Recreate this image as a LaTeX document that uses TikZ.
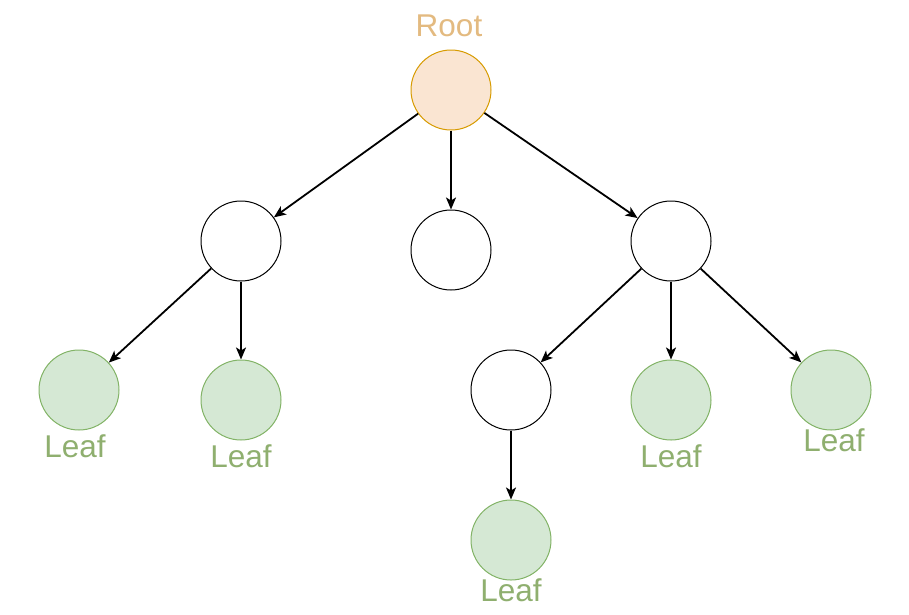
\documentclass[tikz,border=0pt]{standalone}
\usepackage{fontspec}
\setmainfont{Liberation Sans}
\usetikzlibrary{arrows.meta}
\definecolor{rootfill}{HTML}{FAE5D2}
\definecolor{rootline}{HTML}{D79B00}
\definecolor{roottext}{HTML}{E3BA80}
\definecolor{leaffill}{HTML}{D5E8D4}
\definecolor{leafline}{HTML}{82B366}
\definecolor{leaftext}{HTML}{8FAF6F}
\tikzset{
  vertex/.style={circle, draw=black, fill=white, line width=1pt, minimum size=80pt, inner sep=0pt},
  rootnode/.style={vertex, draw=rootline, fill=rootfill},
  leafnode/.style={vertex, draw=leafline, fill=leaffill},
  edge/.style={draw=black, line width=1.8pt, -{Stealth[length=12pt, width=10pt, inset=3pt]}},
  leaflabel/.style={anchor=base, inner sep=0pt, text=leaftext, font=\fontsize{31.5}{32}\selectfont},
  rootlabel/.style={anchor=base, inner sep=0pt, text=roottext, font=\fontsize{31.5}{32}\selectfont}
}
\begin{document}
\begin{tikzpicture}[x=1pt, y=-1pt]
  \useasboundingbox (0,0) rectangle (909,614);

  % nodes of the tree
  \node[rootnode] (root) at (451,90) {};
  \node[vertex] (left) at (241,241) {};
  \node[vertex] (mid) at (451,250) {};
  \node[vertex] (right) at (671,241) {};
  \node[leafnode] (leafA) at (79,390) {};
  \node[leafnode] (leafB) at (241,400) {};
  \node[vertex] (inner) at (511,390) {};
  \node[leafnode] (leafC) at (671,400) {};
  \node[leafnode] (leafD) at (831,390) {};
  \node[leafnode] (leafE) at (511,540) {};

  % labels
  \node[rootlabel] (rootText) at (449,36) {Root};
  \node[leaflabel] (labA) at (75,457) {Leaf};
  \node[leaflabel] (labB) at (241,467) {Leaf};
  \node[leaflabel] (labC) at (671,467) {Leaf};
  \node[leaflabel] (labD) at (834,451) {Leaf};
  \node[leaflabel] (labE) at (511,601) {Leaf};

  % edges
  \draw[edge] (root) -- (left);
  \draw[edge] (root) -- (mid);
  \draw[edge] (root) -- (right);
  \draw[edge] (left) -- (leafA);
  \draw[edge] (left) -- (leafB);
  \draw[edge] (right) -- (inner);
  \draw[edge] (right) -- (leafC);
  \draw[edge] (right) -- (leafD);
  \draw[edge] (inner) -- (leafE);
\end{tikzpicture}
\end{document}
